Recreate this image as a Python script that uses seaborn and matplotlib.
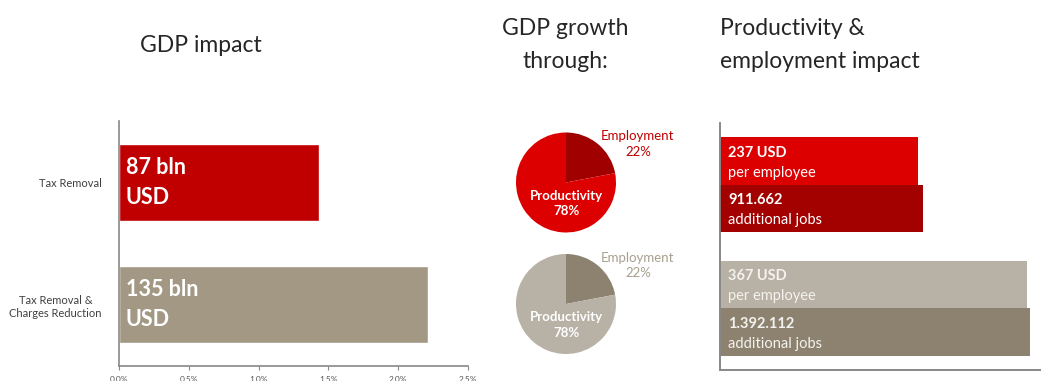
import matplotlib
matplotlib.use("Agg")
import matplotlib.pyplot as plt
import matplotlib.transforms as mtrans
import seaborn as sns

# ==============================================================================: DATA
scenarios = ["Tax Removal", "Tax Removal &\nCharges Reduction"]
gdp_pct = [1.43, 2.21]
gdp_labels = ["87 bln\nUSD", "135 bln\nUSD"]

pie_parts = ["Employment", "Productivity"]
pie_shares = [22, 78]

usd_per_employee = [237, 367]
additional_jobs = [911662, 1392112]
usd_labels = ["237 USD", "367 USD"]
jobs_labels = ["911.662", "1.392.112"]

# colours
bar_colors = ["#c00000", "#a29884"]
pie_colors = [["#a00000", "#dc0000"], ["#8c826f", "#b8b1a5"]]
emp_text_colors = ["#c00000", "#a8a08f"]
right_usd_colors = ["#dc0000", "#b8b1a5"]
right_job_colors = ["#a30000", "#8c826f"]

FONT = "Lato"
W, H = 1041, 381


def px_axes(fig, x0, y0, x1, y1):
    # axes from pixel box (top-left origin)
    return fig.add_axes([x0 / W, 1 - y1 / H, (x1 - x0) / W, (y1 - y0) / H])


# ==============================================================================: PLOT
sns.set_style("white")
plt.rcParams["font.family"] = [FONT, "DejaVu Sans"]

fig = plt.figure(figsize=(W / 100, H / 100), dpi=100)

# ---- titles
title_kw = dict(fontsize=16.5, fontweight="normal", color="#262626", va="center", linespacing=1.7)
fig.text(140 / W, 1 - 45 / H, "GDP impact", ha="left", **title_kw)
fig.text(565 / W, 1 - 45 / H, "GDP growth\nthrough:", ha="center", **title_kw)
fig.text(720 / W, 1 - 45 / H, "Productivity &\nemployment impact", ha="left", **title_kw)

# ---- left: GDP impact bars
ax = px_axes(fig, 119, 121, 468, 366)
sns.barplot(x=gdp_pct, y=scenarios, hue=scenarios, palette=bar_colors, legend=False,
            orient="h", width=0.63, saturation=1, ax=ax)
ax.set_xlim(0, 2.5)
ax.set_ylim(1.5, -0.5)
ax.set_xticks([0, 0.5, 1.0, 1.5, 2.0, 2.5])
ax.set_xticklabels(["0.0%", "0.5%", "1.0%", "1.5%", "2.0%", "2.5%"], fontsize=6, color="#555555")
ax.tick_params(axis="x", bottom=True, length=3, width=0.8, color="#888888", pad=4)
ax.tick_params(axis="y", left=False, labelsize=8, labelcolor="#404040", pad=9)
for lab in ax.get_yticklabels():
    lab.set_multialignment("center")
for s in ["top", "right"]:
    ax.spines[s].set_visible(False)
for s in ["left", "bottom"]:
    ax.spines[s].set_color("#888888")
    ax.spines[s].set_linewidth(1.2)
for i, txt in enumerate(gdp_labels):
    ax.text(0.05, i, txt, color="white", fontsize=15.5, fontweight="bold", va="center", ha="left",
            linespacing=1.55)

# ---- middle: pies
pie_centres = [182.5, 304]
for k, cy in enumerate(pie_centres):
    r = 50
    pax = px_axes(fig, 566 - r, cy - r, 566 + r, cy + r)
    pax.pie(pie_shares, colors=pie_colors[k], startangle=90, counterclock=False, radius=1,
            wedgeprops=dict(linewidth=0))
    pax.set_xlim(-1, 1)
    pax.set_ylim(-1, 1)
    pax.set_aspect("equal")
    pax.axis("off")
    pax.text(1.44, 0.77, f"{pie_parts[0]}\n{pie_shares[0]}%", color=emp_text_colors[k], fontsize=9.5,
             ha="center", va="center", clip_on=False, linespacing=1.35)
    pax.text(0.0, -0.42, f"{pie_parts[1]}\n{pie_shares[1]}%", color="white", fontsize=9.5,
             fontweight="bold", ha="center", va="center", linespacing=1.35)

# ---- right: productivity & employment bars (two scales)
rax = px_axes(fig, 720, 123, 1045, 370)
jax = rax.twiny()
bh = 0.385
ypos = [0, 1]
rax.barh([y - bh / 2 for y in ypos], usd_per_employee, height=bh, color=right_usd_colors, linewidth=0)
jax.barh([y + bh / 2 for y in ypos], additional_jobs, height=bh, color=right_job_colors, linewidth=0)
rax.set_xlim(0, 389)
jax.set_xlim(0, 1459000)
rax.set_ylim(1.5, -0.5)
for a in (rax, jax):
    a.set_xticks([])
    a.set_yticks([])
    for s in ["top", "right"]:
        a.spines[s].set_visible(False)
    for s in ["left", "bottom"]:
        a.spines[s].set_color("#888888")
        a.spines[s].set_linewidth(1.2)

tr = mtrans.blended_transform_factory(jax.transAxes, jax.transData)
tx = 8 / 325
for i in ypos:
    tc = "white" if i == 0 else "#f4f2ee"
    for yc, head, tail in [(i - bh / 2, usd_labels[i], "per employee"),
                           (i + bh / 2, jobs_labels[i], "additional jobs")]:
        jax.text(tx, yc - 0.065, head, transform=tr, color=tc, fontsize=10.5, fontweight="bold",
                 va="center", ha="left")
        jax.text(tx, yc + 0.095, tail, transform=tr, color=tc, fontsize=10.5, va="center", ha="left")

fig.savefig("out.png", dpi=100)
